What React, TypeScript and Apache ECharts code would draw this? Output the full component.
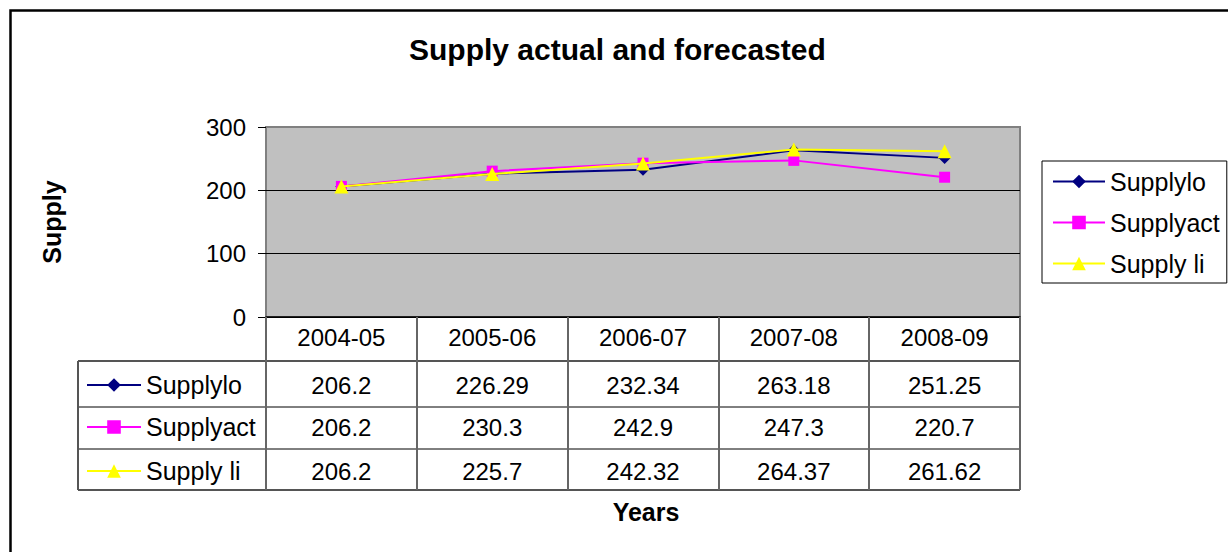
import React, { useEffect, useRef } from "react";
import * as echarts from "echarts";

const categories = ["2004-05", "2005-06", "2006-07", "2007-08", "2008-09"];
const seriesNames = ["Supplylo", "Supplyact", "Supply li"];
const supplyLo = [206.2, 226.29, 232.34, 263.18, 251.25];
const supplyAct = [206.2, 230.3, 242.9, 247.3, 220.7];
const supplyLi = [206.2, 225.7, 242.32, 264.37, 261.62];
const yMin = 0;
const yMax = 300;
const yStep = 100;
const titleText = "Supply actual and forecasted";
const yName = "Supply";
const xName = "Years";

const FONT = "'Liberation Sans', Arial, sans-serif";
const seriesValues = [supplyLo, supplyAct, supplyLi];
const seriesColors = ["#000080", "#FF00FF", "#FFFF00"];
const seriesSymbols = ["diamond", "rect", "triangle"];
const symbolSizes = [12, 11, 14];

// table layout
const rowCenters = [385, 427, 471];
const rowLines = [361, 407, 449, 490];

export default function App() {
  const ref = useRef<HTMLDivElement>(null);
  useEffect(() => {
    if (!ref.current) return;
    const chart = echarts.init(ref.current, undefined, { renderer: "svg" });
    const gridTop = 127;
    const gridH = 190;
    const gridBottom = gridTop + gridH;

    const rowAxes = seriesValues.map((vals, k) => ({
      type: "category",
      data: categories,
      gridIndex: 0,
      position: "bottom",
      offset: rowCenters[k] - 12 - gridBottom,
      axisLine: { show: false },
      axisTick: { show: false },
      splitLine: { show: false },
      axisLabel: {
        interval: 0,
        margin: 0,
        fontSize: 24,
        color: "#000",
        fontFamily: FONT,
        formatter: (_v: string, i: number) => String(vals[i]),
      },
    }));

    const tableGraphics: any[] = rowLines.map((y, i) => ({
      type: "line",
      silent: true,
      shape: { x1: 78, y1: y, x2: 1020, y2: y },
      style: {
        stroke: i === 0 || i === rowLines.length - 1 ? "#555" : "#000",
        lineWidth: i === 0 || i === rowLines.length - 1 ? 2 : 1,
      },
    }));
    tableGraphics.push({
      type: "line",
      silent: true,
      shape: { x1: 78, y1: rowLines[0], x2: 78, y2: rowLines[rowLines.length - 1] },
      style: { stroke: "#555", lineWidth: 2 },
    });

    const legendText = { fontSize: 25, color: "#000", fontFamily: FONT };
    const rowLegends = seriesNames.map((name, k) => ({
      data: [name],
      left: 86,
      top: rowCenters[k] - 12.5,
      padding: 0,
      itemWidth: 54,
      itemHeight: 17,
      selectedMode: false,
      textStyle: legendText,
    }));

    chart.setOption({
      animation: false,
      backgroundColor: "#fff",
      title: {
        text: titleText,
        left: 409,
        top: 34,
        padding: 0,
        textStyle: { fontSize: 30, fontWeight: "bold", color: "#000", fontFamily: FONT },
      },
      grid: {
        left: 266,
        top: gridTop,
        width: 754,
        height: gridH,
        show: true,
        backgroundColor: "#C0C0C0",
        borderColor: "#808080",
        borderWidth: 2,
        containLabel: false,
      },
      legend: [
        {
          data: seriesNames,
          orient: "vertical",
          left: 1042,
          top: 161,
          padding: [8, 7, 7, 10],
          itemWidth: 52,
          itemHeight: 17,
          itemGap: 16,
          borderColor: "#000",
          borderWidth: 1,
          backgroundColor: "#fff",
          selectedMode: false,
          textStyle: legendText,
        },
        ...rowLegends,
      ],
      xAxis: [
        {
          type: "category",
          data: categories,
          boundaryGap: true,
          position: "bottom",
          axisLine: { show: true, onZero: false, lineStyle: { color: "#000", width: 1.5 } },
          axisTick: {
            show: true,
            interval: 0,
            alignWithLabel: false,
            inside: false,
            length: 173,
            lineStyle: { color: "#666", width: 2 },
          },
          axisLabel: { interval: 0, margin: 8, fontSize: 24, color: "#000", fontFamily: FONT },
          splitLine: { show: false },
        },
        ...rowAxes,
      ],
      yAxis: {
        type: "value",
        min: yMin,
        max: yMax,
        interval: yStep,
        axisLine: { show: false },
        axisTick: { show: true, length: 8, lineStyle: { color: "#000", width: 1 } },
        axisLabel: { margin: 20, fontSize: 24, color: "#000", fontFamily: FONT },
        splitLine: { show: true, lineStyle: { color: ["#000", "#000", "#000", "#808080"], width: 1 } },
      },
      series: seriesNames.map((name, k) => ({
        name,
        type: "line",
        xAxisIndex: 0,
        data: seriesValues[k],
        symbol: seriesSymbols[k],
        symbolSize: symbolSizes[k],
        showSymbol: true,
        lineStyle: { color: seriesColors[k], width: 2 },
        itemStyle: { color: seriesColors[k], borderWidth: 0 },
        z: 3 + k,
      })),
      graphic: [
        {
          type: "rect",
          silent: true,
          shape: { x: 10.5, y: 10.5, width: 1500, height: 900 },
          style: { fill: "none", stroke: "#000", lineWidth: 2.5 },
        },
        ...tableGraphics,
        {
          type: "text",
          silent: true,
          x: 52,
          y: 222,
          rotation: Math.PI / 2,
          style: {
            text: yName,
            fontSize: 25,
            fontWeight: "bold",
            fontFamily: FONT,
            fill: "#000",
            textAlign: "center",
            textVerticalAlign: "middle",
          },
        },
        {
          type: "text",
          silent: true,
          x: 646,
          y: 512,
          style: {
            text: xName,
            fontSize: 25,
            fontWeight: "bold",
            fontFamily: FONT,
            fill: "#000",
            textAlign: "center",
            textVerticalAlign: "middle",
          },
        },
      ],
    });
    return () => chart.dispose();
  }, []);
  return (
    <div
      ref={ref}
      style={{ position: "fixed", left: 0, top: 0, width: 1228, height: 552, background: "#fff" }}
    />
  );
}
